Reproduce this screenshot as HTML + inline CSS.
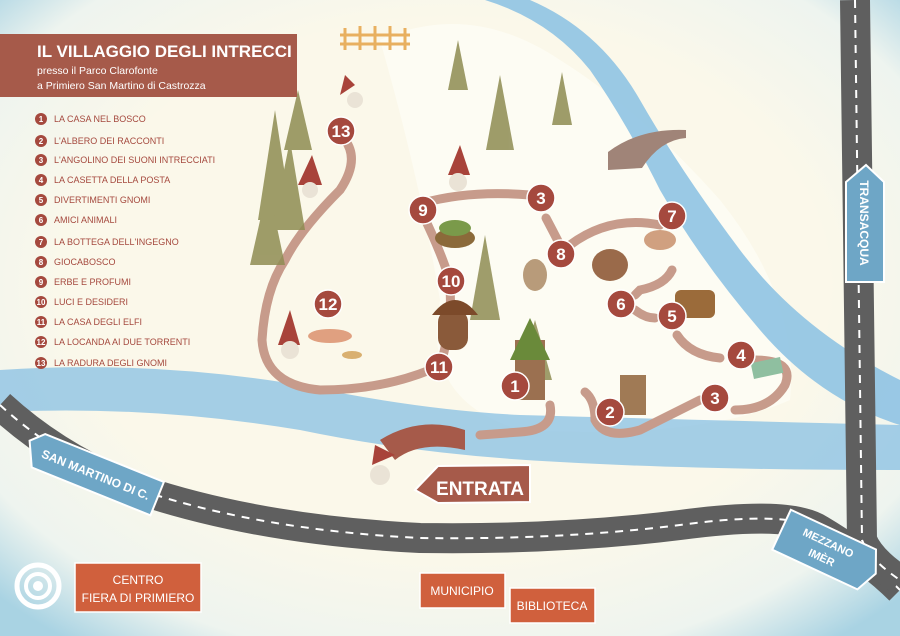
<!DOCTYPE html>
<html><head><meta charset="utf-8"><style>
html,body{margin:0;padding:0;width:900px;height:636px;overflow:hidden;background:#fbf8ea}
svg{display:block}
text{font-family:"Liberation Sans",sans-serif}
</style></head><body>
<svg width="900" height="636" viewBox="0 0 900 636" xmlns="http://www.w3.org/2000/svg">
<defs>
<radialGradient id="bg" cx="50%" cy="45%" r="70%">
<stop offset="0.6" stop-color="#fbf8ea"/><stop offset="0.85" stop-color="#eef4ef"/><stop offset="1" stop-color="#a9d3e3"/>
</radialGradient>
</defs>
<rect width="900" height="636" fill="url(#bg)"/>
<!-- light meadow -->
<path d="M380 40 Q470 0 560 60 Q640 110 720 200 Q800 300 790 400 Q700 440 520 430 Q420 400 440 300 Q420 180 380 40Z" fill="#fdfcf3"/>
<!-- rivers -->
<path d="M485 0 L530 0 Q600 30 640 100 Q680 170 740 250 Q800 330 900 380 L900 425 Q820 400 760 330 Q700 260 660 190 Q625 120 590 70 Q550 20 485 0Z" fill="#8fc3e3" opacity="0.9"/>
<path d="M0 370 Q150 360 300 385 Q420 410 520 415 Q700 420 900 425 L900 470 Q700 470 560 462 Q420 455 300 430 Q150 405 0 412Z" fill="#8fc3e3" opacity="0.8"/>
<!-- roads -->
<path d="M0 405 Q60 460 140 490 Q260 530 420 538 Q560 540 680 525 Q790 510 820 530 Q870 560 900 590" fill="none" stroke="#5f5f5f" stroke-width="30"/>
<path d="M0 405 Q60 460 140 490 Q260 530 420 538 Q560 540 680 525 Q790 510 820 530 Q870 560 900 590" fill="none" stroke="#fff" stroke-width="2" stroke-dasharray="8 7"/>
<path d="M855 0 L862 540 Q870 560 900 580" fill="none" stroke="#5f5f5f" stroke-width="30"/>
<path d="M855 0 L862 540 Q870 560 900 580" fill="none" stroke="#fff" stroke-width="2" stroke-dasharray="8 7"/>
<!-- paths -->
<g fill="none" stroke="#c79b8b" stroke-width="9" stroke-linecap="round">
<path d="M345 140 Q360 160 340 190 Q300 230 285 260 Q265 290 262 340 Q265 385 320 390 Q380 390 430 370"/>
<path d="M423 215 Q440 250 448 275 Q455 310 442 360"/>
<path d="M423 203 Q470 190 530 195"/>
<path d="M546 218 Q555 235 560 245"/>
<path d="M570 245 Q610 215 660 225"/>
<path d="M672 270 Q665 285 640 290 L635 295"/>
<path d="M635 310 Q645 318 655 318"/>
<path d="M677 335 Q690 355 720 358"/>
<path d="M755 360 Q795 360 785 385 Q770 410 735 410"/>
<path d="M550 405 Q555 430 520 432 L480 435"/>
<path d="M585 392 Q595 400 595 420 Q605 440 640 430 Q680 410 700 400"/>
</g>
<!-- bridges -->
<path d="M608 152 Q640 128 686 130 L686 138 Q660 140 642 168 L608 170Z" fill="#a08478"/>
<path d="M380 440 Q420 415 465 430 L465 450 Q420 440 395 460Z" fill="#a65a4a"/>
<!-- trees -->
<g fill="#8e8c52" opacity="0.85">
<polygon points="458,40 448,90 468,90"/><polygon points="500,75 486,150 514,150"/><polygon points="562,72 552,125 572,125"/>
<polygon points="275,110 258,220 292,220"/><polygon points="298,90 284,150 312,150"/><polygon points="290,140 272,230 305,230"/><polygon points="268,185 250,265 285,265"/>
<polygon points="485,235 470,320 500,320"/><polygon points="535,320 518,380 552,380"/>
</g>
<!-- fence -->
<g stroke="#e8b060" stroke-width="3"><line x1="340" y1="35" x2="410" y2="35"/><line x1="340" y1="44" x2="410" y2="44"/><line x1="345" y1="28" x2="345" y2="50"/><line x1="360" y1="26" x2="360" y2="50"/><line x1="375" y1="26" x2="375" y2="50"/><line x1="390" y1="26" x2="390" y2="50"/><line x1="405" y1="28" x2="405" y2="50"/></g>
<!-- decorative items -->
<g fill="#a8433a"><path d="M345 75 L355 85 L340 95Z"/><path d="M460 145 L470 175 L448 175Z"/><path d="M312 155 L322 185 L298 185Z"/><path d="M290 310 L300 345 L278 345Z"/><path d="M375 445 L395 455 L372 465Z"/></g>
<g fill="#eae3d6"><circle cx="355" cy="100" r="8"/><circle cx="458" cy="182" r="9"/><circle cx="310" cy="190" r="8"/><circle cx="290" cy="350" r="9"/><circle cx="380" cy="475" r="10"/></g>
<ellipse cx="330" cy="336" rx="22" ry="7" fill="#e0a080"/><ellipse cx="352" cy="355" rx="10" ry="4" fill="#d9b070"/>
<rect x="438" y="310" width="30" height="40" rx="12" fill="#8a5a3a"/><path d="M432 315 Q455 285 478 315Z" fill="#7c4a2a"/>
<rect x="515" y="340" width="30" height="60" fill="#9b7050"/><polygon points="530,318 510,360 550,360" fill="#6a8a3a"/>
<ellipse cx="455" cy="238" rx="20" ry="10" fill="#8b6a3a"/><ellipse cx="455" cy="228" rx="16" ry="8" fill="#7a9a4a"/>
<rect x="675" y="290" width="40" height="28" rx="6" fill="#9b6b3a"/><rect x="620" y="375" width="26" height="40" fill="#a07a55"/>
<rect x="752" y="360" width="30" height="16" fill="#8fbfa0" transform="rotate(-12 767 368)"/>
<ellipse cx="535" cy="275" rx="12" ry="16" fill="#b89b7a"/><ellipse cx="610" cy="265" rx="18" ry="16" fill="#9a6a4a"/>
<ellipse cx="660" cy="240" rx="16" ry="10" fill="#d0a080"/>
<!-- markers -->
<g font-size="17" font-weight="bold" fill="#fff" text-anchor="middle">
<g fill="#a5493e" stroke="#fff" stroke-width="1.5">
<circle cx="341" cy="131" r="14"/><circle cx="328" cy="304" r="14"/><circle cx="439" cy="367" r="14"/><circle cx="451" cy="281" r="14"/><circle cx="423" cy="210" r="14"/><circle cx="541" cy="198" r="14"/><circle cx="561" cy="254" r="14"/><circle cx="672" cy="216" r="14"/><circle cx="621" cy="304" r="14"/><circle cx="672" cy="316" r="14"/><circle cx="741" cy="355" r="14"/><circle cx="515" cy="386" r="14"/><circle cx="610" cy="412" r="14"/><circle cx="715" cy="398" r="14"/>
</g>
<text x="341" y="137">13</text><text x="328" y="310">12</text><text x="439" y="373">11</text><text x="451" y="287">10</text><text x="423" y="216">9</text><text x="541" y="204">3</text><text x="561" y="260">8</text><text x="672" y="222">7</text><text x="621" y="310">6</text><text x="672" y="322">5</text><text x="741" y="361">4</text><text x="515" y="392">1</text><text x="610" y="418">2</text><text x="715" y="404">3</text>
</g>
<!-- title -->
<rect x="0" y="34" width="297" height="63" fill="#a65a4a"/>
<text x="37" y="57" font-size="17" font-weight="bold" fill="#fff">IL VILLAGGIO DEGLI INTRECCI</text>
<text x="37" y="74" font-size="10.5" fill="#fff">presso il Parco Clarofonte</text>
<text x="37" y="89" font-size="10.5" fill="#fff">a Primiero San Martino di Castrozza</text>
<!-- legend -->
<g font-size="9" fill="#a5493e">
<g><circle cx="41" cy="119" r="6"/><circle cx="41" cy="141" r="6"/><circle cx="41" cy="160" r="6"/><circle cx="41" cy="180" r="6"/><circle cx="41" cy="200" r="6"/><circle cx="41" cy="220" r="6"/><circle cx="41" cy="242" r="6"/><circle cx="41" cy="262" r="6"/><circle cx="41" cy="282" r="6"/><circle cx="41" cy="302" r="6"/><circle cx="41" cy="322" r="6"/><circle cx="41" cy="342" r="6"/><circle cx="41" cy="363" r="6"/></g>
<g text-anchor="middle" fill="#fff" font-size="8" font-weight="bold"><text x="41" y="122">1</text><text x="41" y="144">2</text><text x="41" y="163">3</text><text x="41" y="183">4</text><text x="41" y="203">5</text><text x="41" y="223">6</text><text x="41" y="245">7</text><text x="41" y="265">8</text><text x="41" y="285">9</text><text x="41" y="305">10</text><text x="41" y="325">11</text><text x="41" y="345">12</text><text x="41" y="366">13</text></g>
<text x="54" y="122">LA CASA NEL BOSCO</text><text x="54" y="144">L'ALBERO DEI RACCONTI</text><text x="54" y="163">L'ANGOLINO DEI SUONI INTRECCIATI</text><text x="54" y="183">LA CASETTA DELLA POSTA</text><text x="54" y="203">DIVERTIMENTI GNOMI</text><text x="54" y="223">AMICI ANIMALI</text><text x="54" y="245">LA BOTTEGA DELL'INGEGNO</text><text x="54" y="265">GIOCABOSCO</text><text x="54" y="285">ERBE E PROFUMI</text><text x="54" y="305">LUCI E DESIDERI</text><text x="54" y="325">LA CASA DEGLI ELFI</text><text x="54" y="345">LA LOCANDA AI DUE TORRENTI</text><text x="54" y="366">LA RADURA DEGLI GNOMI</text>
</g>
<!-- signs -->
<g>
<polygon points="846,182 866,165 884,182 884,282 846,282" fill="#6ea6c6" stroke="#fff" stroke-width="2"/>
<text transform="translate(860,223) rotate(90)" font-size="12" fill="#fff" text-anchor="middle" font-weight="bold">TRANSACQUA</text>
</g>
<g transform="translate(90,478) rotate(22)">
<polygon points="-70,-12 -58,-24 70,-24 70,12 -58,12" fill="#6ea6c6" stroke="#fff" stroke-width="2"/>
<text x="4" y="-1" font-size="12" fill="#fff" text-anchor="middle" font-weight="bold">SAN MARTINO DI C.</text>
</g>
<g transform="translate(825,550) rotate(25)">
<polygon points="-48,-22 46,-22 56,0 46,22 -48,22" fill="#6ea6c6" stroke="#fff" stroke-width="2"/>
<text x="0" y="-4" font-size="11" fill="#fff" text-anchor="middle" font-weight="bold">MEZZANO</text>
<text x="0" y="12" font-size="11" fill="#fff" text-anchor="middle" font-weight="bold">IMÈR</text>
</g>
<polygon points="415,490 438,466 530,465 530,502 438,503" fill="#a65a4a" stroke="#fff" stroke-width="2"/>
<text x="480" y="495" font-size="19" fill="#fff" text-anchor="middle" font-weight="bold">ENTRATA</text>
<!-- bottom -->
<circle cx="38" cy="586" r="21" fill="none" stroke="#fff" stroke-width="5"/><circle cx="38" cy="586" r="12" fill="none" stroke="#fff" stroke-width="4"/><circle cx="38" cy="586" r="5" fill="#fff"/>
<rect x="75" y="563" width="126" height="49" fill="#d0603d" stroke="#fff" stroke-width="1.5"/>
<text x="138" y="584" font-size="12" fill="#fff" text-anchor="middle">CENTRO</text>
<text x="138" y="602" font-size="12" fill="#fff" text-anchor="middle">FIERA DI PRIMIERO</text>
<rect x="420" y="573" width="85" height="35" fill="#d0603d" stroke="#fff" stroke-width="1.5"/>
<text x="462" y="595" font-size="12" fill="#fff" text-anchor="middle">MUNICIPIO</text>
<rect x="510" y="588" width="85" height="35" fill="#d0603d" stroke="#fff" stroke-width="1.5"/>
<text x="552" y="610" font-size="12" fill="#fff" text-anchor="middle">BIBLIOTECA</text>
</svg>
</body></html>
